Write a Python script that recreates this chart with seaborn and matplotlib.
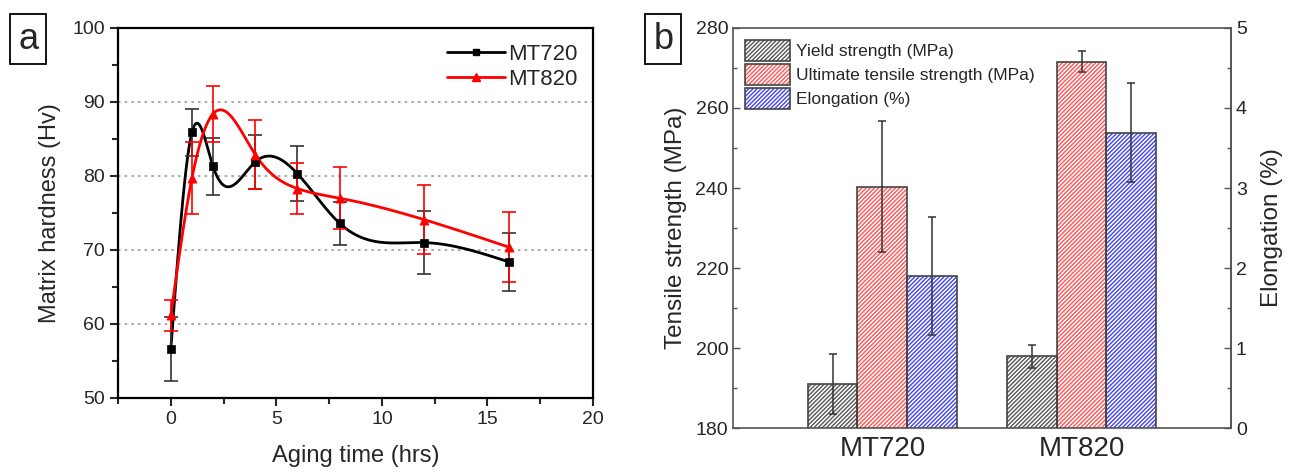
import numpy as np
import pandas as pd
import matplotlib
matplotlib.use("Agg")
import matplotlib.pyplot as plt
import seaborn as sns
from matplotlib.lines import Line2D
from matplotlib.patches import Rectangle, Patch
from matplotlib.legend_handler import HandlerTuple
from matplotlib.ticker import MultipleLocator

# ---- panel a: matrix hardness vs aging time ----
aging_time = [0, 1, 2, 4, 6, 8, 12, 16]
mt720_hv = [56.6, 85.9, 81.3, 81.9, 80.3, 73.6, 71.0, 68.4]
mt720_err = [4.3, 3.2, 3.9, 3.7, 3.7, 2.9, 4.3, 3.9]
mt820_hv = [61.2, 79.7, 88.4, 82.9, 78.3, 77.0, 74.1, 70.4]
mt820_err = [2.1, 4.9, 3.8, 4.7, 3.4, 4.2, 4.7, 4.7]

# ---- panel b: tensile properties ----
alloys = ["MT720", "MT820"]
yield_mpa = [190.9, 197.9]
yield_err = [7.5, 2.9]
uts_mpa = [240.3, 271.6]
uts_err = [16.4, 2.7]
elong_pct = [1.90, 3.69]
elong_err = [0.74, 0.62]
props = ["Yield strength (MPa)", "Ultimate tensile strength (MPa)", "Elongation (%)"]


def natural_spline(x, y, n=400):
    # natural cubic spline through the points, only used to draw the smooth connecting line
    x = np.asarray(x, float)
    y = np.asarray(y, float)
    k = len(x)
    h = np.diff(x)
    A = np.zeros((k, k))
    b = np.zeros(k)
    A[0, 0] = A[-1, -1] = 1
    for i in range(1, k - 1):
        A[i, i - 1] = h[i - 1]
        A[i, i] = 2 * (h[i - 1] + h[i])
        A[i, i + 1] = h[i]
        b[i] = 6 * ((y[i + 1] - y[i]) / h[i] - (y[i] - y[i - 1]) / h[i - 1])
    M = np.linalg.solve(A, b)
    xs = np.linspace(x[0], x[-1], n)
    idx = np.clip(np.searchsorted(x, xs) - 1, 0, k - 2)
    x0, x1 = x[idx], x[idx + 1]
    hh = x1 - x0
    t0, t1 = x1 - xs, xs - x0
    ys = (M[idx] * t0**3 + M[idx + 1] * t1**3) / (6 * hh) \
        + (y[idx] / hh - M[idx] * hh / 6) * t0 + (y[idx + 1] / hh - M[idx + 1] * hh / 6) * t1
    return xs, ys


# elongation axis on the right: 0-5 % spans 180-280 MPa
def mpa_to_pct(v):
    return (np.asarray(v, float) - 180) / 20


def pct_to_mpa(v):
    return np.asarray(v, float) * 20 + 180


sns.set_style("ticks")
plt.rcParams["font.family"] = ["Liberation Sans", "DejaVu Sans"]
plt.rcParams["hatch.linewidth"] = 1.0

fig = plt.figure(figsize=(12.93, 4.76), dpi=100)
ax_a = fig.add_axes([0.0913, 0.1639, 0.3673, 0.7773])
ax_b = fig.add_axes([0.5669, 0.1008, 0.3851, 0.8404])

# panel a
for hv, err, col, mk, ms, ecol in [(mt720_hv, mt720_err, "black", "s", 5, "#333333"),
                                   (mt820_hv, mt820_err, "red", "^", 6, "red")]:
    xs, ys = natural_spline(aging_time, hv)
    sns.lineplot(x=xs, y=ys, ax=ax_a, color=col, lw=2, sort=False)
    ax_a.errorbar(aging_time, hv, yerr=err, fmt="none", ecolor=ecol, elinewidth=1.2,
                  capsize=5, capthick=1.2)
    sns.scatterplot(x=aging_time, y=hv, ax=ax_a, color=col, marker=mk, s=ms**2 * 1.2,
                    edgecolor=col, linewidth=0.5, zorder=5)

ax_a.set_xlim(-2.5, 20)
ax_a.set_ylim(50, 100)
ax_a.xaxis.set_major_locator(MultipleLocator(5))
ax_a.xaxis.set_minor_locator(MultipleLocator(2.5))
ax_a.yaxis.set_major_locator(MultipleLocator(10))
ax_a.yaxis.set_minor_locator(MultipleLocator(5))
ax_a.tick_params(which="major", direction="out", length=6, width=1.5, labelsize=14)
ax_a.tick_params(which="minor", direction="out", length=4, width=1.5)
for s in ax_a.spines.values():
    s.set_linewidth(1.6)
    s.set_color("black")
ax_a.yaxis.grid(True, linestyle=(0, (1.5, 2.5)), color="#999999", lw=1.2)
ax_a.set_xlabel("Aging time (hrs)", fontsize=17, labelpad=12)
ax_a.set_ylabel("Matrix hardness (Hv)", fontsize=17, labelpad=8)
handles_a = [Line2D([], [], color="black", lw=2, marker="s", ms=5),
             Line2D([], [], color="red", lw=2, marker="^", ms=6)]
ax_a.legend(handles_a, ["MT720", "MT820"], loc="upper right", frameon=False, fontsize=16,
            handlelength=2.6, handletextpad=0.15, borderaxespad=0.3, labelspacing=0.2,
            bbox_to_anchor=(1.0, 1.0))

# panel b: all bars on the MPa axis, elongation through the right-hand secondary scale
bars_df = pd.DataFrame({
    "alloy": alloys * 3,
    "prop": [props[0]] * 2 + [props[1]] * 2 + [props[2]] * 2,
    "value": yield_mpa + uts_mpa + list(pct_to_mpa(elong_pct)),
})
errs = {props[0]: yield_err, props[1]: uts_err,
        props[2]: list(np.asarray(elong_err) * 20)}
hatch_cols = {props[0]: "#555555", props[1]: "#ff5555", props[2]: "#4444ee"}
hatch = "////////"

sns.barplot(data=bars_df, x="alloy", y="value", hue="prop", hue_order=props, ax=ax_b,
            errorbar=None, width=0.75, legend=False, palette=["white"] * 3)
ax_b.set_ylim(180, 280)
ax_b.set_xlim(-0.75, 1.75)

for cont, prop in zip(ax_b.containers, props):
    for j, p in enumerate(cont.patches):
        p.set_facecolor("white")
        p.set_edgecolor(hatch_cols[prop])
        p.set_hatch(hatch)
        p.set_linewidth(0)
        x0, w = p.get_x(), p.get_width()
        y0, hgt = p.get_y(), p.get_height()
        ax_b.add_patch(Rectangle((x0, y0), w, hgt, fill=False, edgecolor="#444444",
                                 lw=1.2, zorder=3))
        ax_b.errorbar(x0 + w / 2, y0 + hgt, yerr=errs[prop][j], fmt="none",
                      ecolor="#333333", elinewidth=1.1, capsize=3, capthick=1.1, zorder=4)

sec = ax_b.secondary_yaxis("right", functions=(mpa_to_pct, pct_to_mpa))
for s in ax_b.spines.values():
    s.set_color("#555555")
    s.set_linewidth(1.2)
sec.spines["right"].set_color("#555555")
sec.spines["right"].set_linewidth(1.2)
ax_b.yaxis.set_major_locator(MultipleLocator(20))
ax_b.yaxis.set_minor_locator(MultipleLocator(10))
sec.yaxis.set_major_locator(MultipleLocator(1))
sec.yaxis.set_minor_locator(MultipleLocator(0.5))
for ax in (ax_b, sec):
    ax.tick_params(axis="y", which="major", direction="in", length=5, width=1, labelsize=14,
                   color="#555555")
    ax.tick_params(axis="y", which="minor", direction="in", length=3, width=1,
                   color="#555555")
ax_b.tick_params(axis="x", length=0, labelsize=20, pad=6)
ax_b.set_xlabel("")
ax_b.set_ylabel("Tensile strength (MPa)", fontsize=17.5, labelpad=6)
sec.set_ylabel("Elongation (%)", fontsize=17.5, labelpad=10)

handles_b = [(Patch(facecolor="white", edgecolor=hatch_cols[p], hatch=hatch, lw=0),
              Patch(fill=False, edgecolor="#444444", lw=1.2)) for p in props]
leg = ax_b.legend(handles_b, props, loc="upper left", frameon=False, fontsize=12.5,
                  handlelength=2.6, handleheight=1.5, handletextpad=0.3, labelspacing=0.15,
                  borderaxespad=0.3, handler_map={tuple: HandlerTuple(ndivide=1)})
leg.set_zorder(10)

# panel letters
for x, letter in [(0.022, "a"), (0.513, "b")]:
    fig.text(x, 0.918, letter, fontsize=26, ha="center", va="center",
             bbox=dict(boxstyle="square,pad=0.22", facecolor="white", edgecolor="black", lw=1.3))

fig.savefig("out.png", dpi=100)
